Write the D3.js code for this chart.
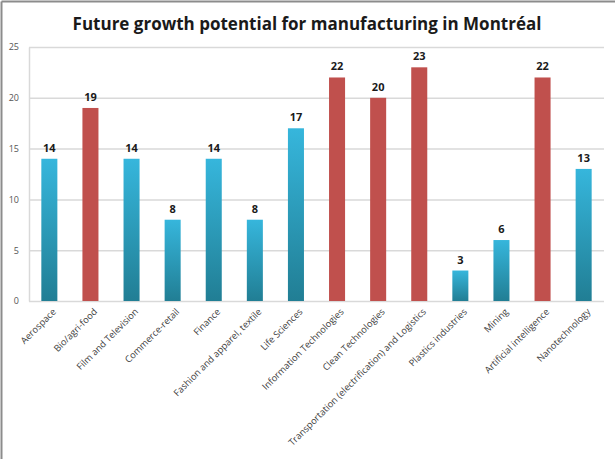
<html><head>
<meta charset="utf-8">
<title>Future growth potential</title>
<script src="https://cdn.jsdelivr.net/npm/d3@7"></script>
<style>
  body { margin: 0; background: #fff; }
  svg text { font-family: "Open Sans", sans-serif; }
</style>
</head>
<body>
<div id="chart"></div>
<script>

// data
var sectors = ["Aerospace", "Bio/agri-food", "Film and Television", "Commerce-retail", "Finance",
  "Fashion and apparel, textile", "Life Sciences", "Information Technologies", "Clean Technologies",
  "Transportation (electrification) and Logistics", "Plastics industries", "Mining",
  "Artificial intelligence", "Nanotechnology"];
var scores = [14, 19, 14, 8, 14, 8, 17, 22, 20, 23, 3, 6, 22, 13];
var highlighted = [false, true, false, false, false, false, false, true, true, true, false, false, true, false];
var yTicks = [0, 5, 10, 15, 20, 25];

var W = 615, H = 459;
var margin = {top: 47, right: 11, bottom: 158, left: 29};
var width = W - margin.left - margin.right;
var height = H - margin.top - margin.bottom;

var svg = d3.select("#chart").append("svg")
    .attr("width", W)
    .attr("height", H);

// gradient for blue bars
var grad = svg.append("defs").append("linearGradient")
    .attr("id", "blueGrad")
    .attr("x1", 0).attr("y1", 0).attr("x2", 0).attr("y2", 1);
grad.append("stop").attr("offset", "0%").attr("stop-color", "#36b6dc");
grad.append("stop").attr("offset", "100%").attr("stop-color", "#217e94");

// frame (left + top only)
svg.append("line").attr("x1", 1.5).attr("y1", 1.5).attr("x2", W).attr("y2", 1.5)
    .attr("stroke", "#8c8c8c").attr("stroke-width", 2);
svg.append("line").attr("x1", 1.5).attr("y1", 1.5).attr("x2", 1.5).attr("y2", H)
    .attr("stroke", "#8c8c8c").attr("stroke-width", 2);

svg.append("text")
    .attr("x", 307)
    .attr("y", 30)
    .attr("text-anchor", "middle")
    .style("font-size", "17px")
    .style("font-weight", "bold")
    .style("fill", "#1a1a1a")
    .text("Future growth potential for manufacturing in Montréal");

var g = svg.append("g")
    .attr("transform", "translate(" + margin.left + "," + margin.top + ")");

var x = d3.scaleBand()
    .domain(sectors)
    .range([0, width])
    .paddingInner(0.61)
    .paddingOuter(0.3);

var y = d3.scaleLinear()
    .domain([0, 25])
    .range([height, 0]);

// gridlines
g.selectAll(".grid")
  .data(yTicks)
  .enter().append("line")
    .attr("x1", 0)
    .attr("x2", width)
    .attr("y1", function(d) { return y(d) + 0.5; })
    .attr("y2", function(d) { return y(d) + 0.5; })
    .attr("stroke", "#d9d9d9")
    .attr("stroke-width", 1.5);

var yAxis = d3.axisLeft(y).tickValues(yTicks).tickSize(0).tickPadding(10);
g.append("g").call(yAxis)
  .call(function(s) { s.select(".domain").attr("stroke", "#d9d9d9").attr("stroke-width", 1.5); })
  .selectAll("text")
    .style("font-size", "9px")
    .style("fill", "#555")
    .style("font-family", "Open Sans, sans-serif");

g.selectAll(".bar")
  .data(sectors)
  .enter().append("rect")
    .attr("x", function(d) { return x(d); })
    .attr("y", function(d, i) { return y(scores[i]); })
    .attr("width", x.bandwidth())
    .attr("height", function(d, i) { return height - y(scores[i]); })
    .attr("fill", function(d, i) { return highlighted[i] ? "#c0504d" : "url(#blueGrad)"; });

g.selectAll(".val")
  .data(sectors)
  .enter().append("text")
    .attr("x", function(d) { return x(d) + x.bandwidth() / 2; })
    .attr("y", function(d, i) { return y(scores[i]) - 7; })
    .attr("text-anchor", "middle")
    .style("font-size", "11px")
    .style("font-weight", "bold")
    .style("fill", "#1a1a1a")
    .text(function(d, i) { return scores[i]; });

var xAxis = d3.axisBottom(x).tickSize(0).tickPadding(0);
g.append("g")
    .attr("transform", "translate(0," + height + ")")
    .call(xAxis)
  .call(function(s) { s.select(".domain").remove(); })
  .selectAll("text")
    .attr("transform", "translate(5,9) rotate(-45)")
    .attr("dy", "0.35em")
    .attr("x", 0)
    .attr("y", 0)
    .style("text-anchor", "end")
    .style("font-size", "9.3px")
    .style("fill", "#404040")
    .style("font-family", "Open Sans, sans-serif");

</script>
</body></html>
